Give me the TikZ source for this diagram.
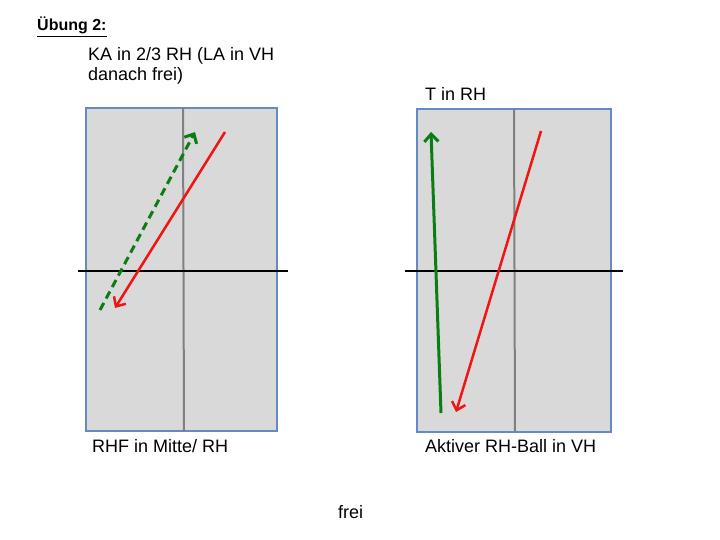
\documentclass[tikz,border=0pt]{standalone}
\usepackage{fontspec}
\setmainfont{Liberation Sans}
\usetikzlibrary{arrows.meta}
\definecolor{tblue}{RGB}{100,138,196}
\definecolor{tgray}{RGB}{217,217,217}
\definecolor{tgreen}{RGB}{10,125,20}
\definecolor{tred}{RGB}{240,20,20}

\begin{document}
\begin{tikzpicture}[x=1pt,y=-1pt,>={Straight Barb[length=7.5pt,width=14pt]},
  lbl/.style={anchor=base west,inner sep=0pt,align=left,font=\fontsize{18}{20}\selectfont},
  tisch/.style={fill=tgray,draw=tblue,line width=1.7pt},
  mitte/.style={draw=gray,line width=2pt},
  netz/.style={draw=black,line width=2pt},
  rot/.style={->,line width=2.5pt,tred},
  gruen/.style={->,line width=3pt,tgreen}]
  \useasboundingbox (0,0) rectangle (720,540);
  % Tische: links, rechts
  \foreach \n/\xa/\xb/\ya/\yb/\xm/\na/\nb in {L/86/277/108/431/183/78/288, R/417/611/109/432/514/405/623}{
    \draw[tisch] (\xa,\ya) rectangle (\xb,\yb);
    \coordinate (\n mo) at (\xm,\ya);
    \coordinate (\n mu) at (\xm+1,\yb);
    \coordinate (\n nl) at (\na,271);
    \coordinate (\n nr) at (\nb,271);
    \draw[mitte] (\n mo) -- (\n mu);
    \draw[netz] (\n nl) -- (\n nr);
  }
  % Ballwege
  \coordinate (g1a) at (100,310);
  \coordinate (g1b) at (195,132);
  \coordinate (r1a) at (225,132);
  \coordinate (r1b) at (115,308);
  \coordinate (g2a) at (441,413);
  \coordinate (g2b) at (431,132);
  \coordinate (r2a) at (541,131);
  \coordinate (r2b) at (456,412);
  \draw[gruen,dash pattern=on 8pt off 5pt] (g1a) -- (g1b);
  \draw[rot] (r1a) -- (r1b);
  \draw[gruen] (g2a) -- (g2b);
  \draw[rot] (r2a) -- (r2b);
  % Texte
  \node[anchor=base west,inner sep=0pt,font=\fontsize{16}{18}\selectfont\bfseries] (titel) at (37,31) {\underline{Übung 2:}};
  \node[lbl] (ka) at (88,81) {KA in 2/3 RH (LA in VH\\danach frei)};
  \node[lbl] (t) at (425,101) {T in RH};
  \node[lbl] (rhf) at (92,452) {RHF in Mitte/ RH};
  \node[lbl] (akt) at (425,452) {Aktiver RH-Ball in VH};
  \node[lbl] (frei) at (338,518) {frei};
\end{tikzpicture}
\end{document}
